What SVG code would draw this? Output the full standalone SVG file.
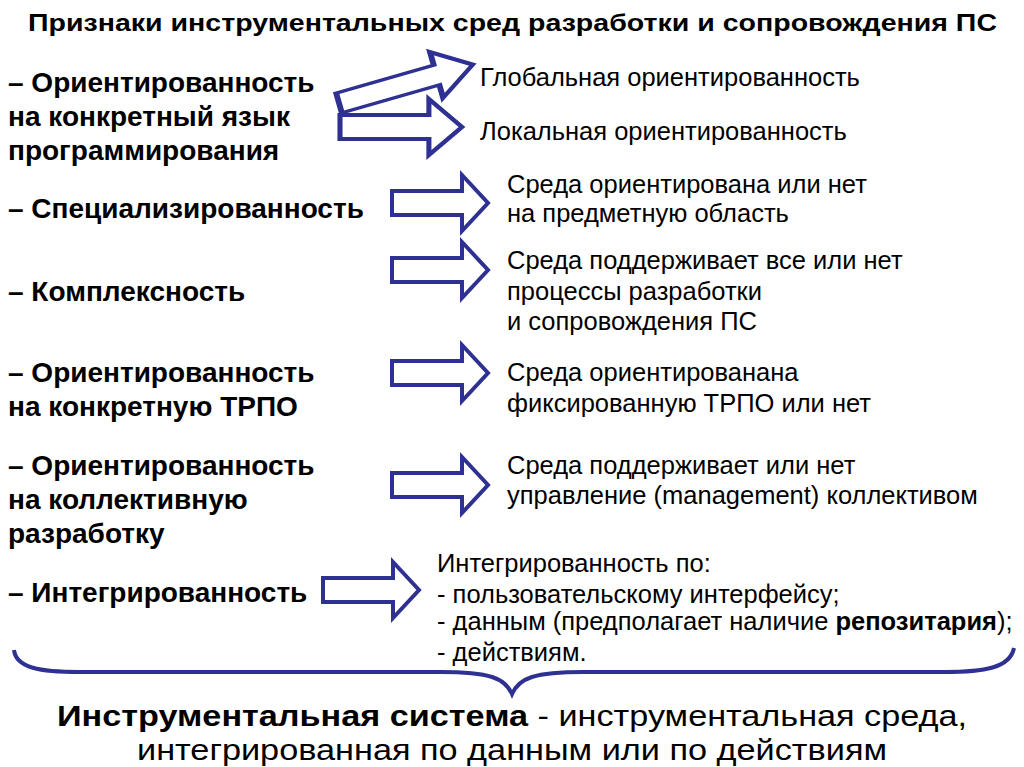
<svg xmlns="http://www.w3.org/2000/svg" width="1024" height="767" viewBox="0 0 1024 767">
<style>
.t{font-family:"Liberation Sans",Arial,sans-serif;fill:#000}
.title{font-size:24px;font-weight:bold}
.lb{font-size:28px;font-weight:bold}
.r{font-size:25.5px}
.bot{font-size:29px}
.arr{fill:#fff;stroke:#2e3192;stroke-width:4;stroke-linejoin:miter}
.brace{fill:none;stroke:#2e3192;stroke-width:4}
</style>
<defs>
<path id="a" d="M0,-12 L70,-12 L70,-28 L96,0 L70,28 L70,12 L0,12 Z"/>
</defs>
<rect width="1024" height="767" fill="#fff"/>
<text class="t title" x="28" y="31" textLength="969" lengthAdjust="spacingAndGlyphs">Признаки инструментальных сред разработки и сопровождения ПС</text>

<g id="n1">
<text class="t lb" x="8" y="92">– Ориентированность</text>
<text class="t lb" x="8" y="126">на конкретный язык</text>
<text class="t lb" x="8" y="160">программирования</text>
</g>
<g id="n1a"><text class="t r" x="480" y="86">Глобальная ориентированность</text></g>
<g id="n1b"><text class="t r" x="480" y="140">Локальная ориентированность</text></g>

<g id="n2">
<text class="t lb" x="8" y="218">– Специализированность</text>
</g>
<g id="n2r">
<text class="t r" x="507" y="193">Среда ориентирована или нет</text>
<text class="t r" x="507" y="222">на предметную область</text>
</g>

<g id="n3"><text class="t lb" x="8" y="301">– Комплексность</text></g>
<g id="n3r">
<text class="t r" x="507" y="269">Среда поддерживает все или нет</text>
<text class="t r" x="507" y="300">процессы разработки</text>
<text class="t r" x="507" y="330">и сопровождения ПС</text>
</g>

<g id="n4">
<text class="t lb" x="8" y="382">– Ориентированность</text>
<text class="t lb" x="8" y="416">на конкретную ТРПО</text>
</g>
<g id="n4r">
<text class="t r" x="507" y="381">Среда ориентированана</text>
<text class="t r" x="507" y="412">фиксированную ТРПО или нет</text>
</g>

<g id="n5">
<text class="t lb" x="8" y="475">– Ориентированность</text>
<text class="t lb" x="8" y="509">на коллективную</text>
<text class="t lb" x="8" y="543">разработку</text>
</g>
<g id="n5r">
<text class="t r" x="507" y="474">Среда поддерживает или нет</text>
<text class="t r" x="507" y="504">управление (management) коллективом</text>
</g>

<g id="n6"><text class="t lb" x="8" y="602">– Интегрированность</text></g>
<g id="n6r">
<text class="t r" x="437" y="572">Интегрированность по:</text>
<text class="t r" x="437" y="603">- пользовательскому интерфейсу;</text>
<text class="t r" x="437" y="630">- данным (предполагает наличие <tspan font-weight="bold">репозитария</tspan>);</text>
<text class="t r" x="437" y="661">- действиям.</text>
</g>

<g id="connectors">
<use href="#a" class="arr" transform="translate(339,103) rotate(-16) scale(1.45,0.85)"/>
<use href="#a" class="arr" transform="translate(340,127) scale(1.27,1)"/>
<use href="#a" class="arr" transform="translate(392,203)"/>
<use href="#a" class="arr" transform="translate(392,270)"/>
<use href="#a" class="arr" transform="translate(392,373)"/>
<use href="#a" class="arr" transform="translate(392,485)"/>
<use href="#a" class="arr" transform="translate(323,590)"/>
<path class="brace" d="M14,650 C16,668 40,672 80,672 L440,672 C490,672 505,678 512,694 C519,678 534,672 584,672 L944,672 C984,672 1010,668 1014,648"/>
</g>

<g id="footer">
<text class="t bot" x="512" y="726" text-anchor="middle" textLength="910" lengthAdjust="spacingAndGlyphs"><tspan font-weight="bold">Инструментальная система</tspan> - инструментальная среда,</text>
<text class="t bot" x="512" y="760" text-anchor="middle" textLength="750" lengthAdjust="spacingAndGlyphs">интегрированная по данным или по действиям</text>
</g>
</svg>
